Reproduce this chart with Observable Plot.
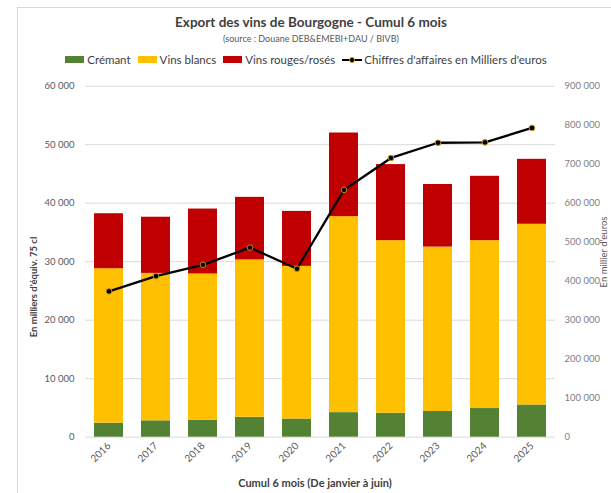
<!DOCTYPE html>
<html>
<head>
<meta charset="utf-8">
<script src="https://cdn.jsdelivr.net/npm/d3@7"></script>
<script src="https://cdn.jsdelivr.net/npm/@observablehq/plot@0.6"></script>
<style>
  html, body { margin:0; padding:0; width:611px; height:493px; overflow:hidden; background:#fff; font-family: Lato, "Open Sans", sans-serif; }
  #frame { position:absolute; left:17px; top:7px; width:700px; height:600px; border:1px solid #d9d9d9; box-sizing:border-box; }
  .t { position:absolute; white-space:nowrap; color:#404040; }
  #title { left:0; width:622px; top:14px; text-align:center; font-size:13.5px; font-weight:bold; }
  #subtitle { left:0; width:622px; top:33px; text-align:center; font-size:9px; color:#595959; }
  #legend { left:0; width:611px; top:53px; display:flex; justify-content:center; align-items:center; font-size:11.5px; color:#404040; padding-left:8px; box-sizing:border-box; }
  .li { display:flex; align-items:center; margin-right:7px; }
  .sw { width:19px; height:7px; margin-right:3px; }
  #chart { position:absolute; left:0; top:70px; }
  #xtitle { left:0; width:630px; top:476px; text-align:center; font-size:11px; font-weight:bold; }
  #ytitle { left:33px; top:287px; font-size:9.5px; font-weight:bold; transform:translate(-50%,-50%) rotate(-90deg); }
  #y2title { left:603px; top:252px; font-size:9.5px; color:#595959; transform:translate(-50%,-50%) rotate(-90deg); }
</style>
</head>
<body>
<div id="frame"></div>
<div class="t" id="title">Export des vins de Bourgogne - Cumul 6 mois</div>
<div class="t" id="subtitle">(source : Douane DEB&amp;EMEBI+DAU / BIVB)</div>
<div class="t" id="legend"></div>
<div id="chart"></div>
<div class="t" id="xtitle">Cumul 6 mois (De janvier à juin)</div>
<div class="t" id="ytitle">En milliers d'équiv. 75 cl</div>
<div class="t" id="y2title">En millier d'euros</div>
<script>
// ---- data ----
const years = ["2016","2017","2018","2019","2020","2021","2022","2023","2024","2025"];
const cremant = [2400, 2800, 2900, 3400, 3100, 4200, 4100, 4400, 4900, 5500];
const vinsBlancs = [26400, 25200, 25000, 26900, 26100, 33500, 29500, 28100, 28700, 30900];
const vinsRouges = [9400, 9600, 11100, 10700, 9400, 14300, 13000, 10700, 11000, 11100];
const chiffreAffaires = [374000, 413000, 442000, 486000, 432000, 634000, 716000, 755000, 756000, 793000];
const seriesNames = ["Crémant", "Vins blancs", "Vins rouges/rosés"];
const seriesColors = ["#548235", "#FFC000", "#C00000"];
const lineName = "Chiffres d'affaires en Milliers d'euros";
const leftTicks = [0, 10000, 20000, 30000, 40000, 50000, 60000];
const rightTicks = [0, 100000, 200000, 300000, 400000, 500000, 600000, 700000, 800000, 900000];

// ---- build tables ----
const seriesValues = [cremant, vinsBlancs, vinsRouges];
const rows = [];
seriesNames.forEach((s, si) => years.forEach((y, i) => rows.push({year: y, series: s, value: seriesValues[si][i]})));
const caRows = years.map((y, i) => ({year: y, ca: chiffreAffaires[i]}));
const ratio = rightTicks[rightTicks.length - 1] / leftTicks[leftTicks.length - 1];

const fmt = d3.formatLocale({decimal: ",", thousands: " ", grouping: [3], currency: ["", ""]}).format(",d");

// ---- legend ----
const legend = document.getElementById("legend");
seriesNames.forEach((s, i) => {
  const el = document.createElement("div"); el.className = "li";
  el.innerHTML = `<span class="sw" style="background:${seriesColors[i]}"></span><span>${s}</span>`;
  legend.appendChild(el);
});
{
  const el = document.createElement("div"); el.className = "li";
  el.innerHTML = `<svg width="20" height="10" style="margin-right:2px"><line x1="0" y1="5" x2="20" y2="5" stroke="black" stroke-width="2"/><circle cx="10" cy="5" r="2.5" fill="black" stroke="#c09010" stroke-width="1"/></svg><span>${lineName}</span>`;
  legend.appendChild(el);
}

// ---- chart ----
const chart = Plot.plot({
  width: 611,
  height: 423,
  marginTop: 15.7,
  marginBottom: 56.3,
  marginLeft: 85,
  marginRight: 56,
  style: {fontFamily: "Lato, 'Open Sans', sans-serif", fontSize: "9.5px", background: "transparent"},
  x: {domain: years, paddingInner: 0.38, paddingOuter: 0.19, label: null},
  y: {domain: [0, 60000], label: null},
  color: {domain: seriesNames, range: seriesColors},
  marks: [
    Plot.gridY(leftTicks, {stroke: "#d9d9d9", strokeOpacity: 1, strokeWidth: 1}),
    Plot.barY(rows, {x: "year", y: "value", fill: "series", order: seriesNames}),
    Plot.line(caRows, {x: "year", y: d => d.ca / ratio, stroke: "black", strokeWidth: 2.3}),
    Plot.dot(caRows, {x: "year", y: d => d.ca / ratio, r: 2.8, fill: "black", stroke: "#c09010", strokeWidth: 1}),
    Plot.axisY(leftTicks, {anchor: "left", tickSize: 0, tickPadding: 11, tickFormat: fmt, fill: "#595959", label: null}),
    Plot.axisY(rightTicks.map(v => v / ratio), {anchor: "right", tickSize: 0, tickPadding: 9, tickFormat: d => fmt(Math.round(d * ratio)), fill: "#808080", label: null}),
    Plot.axisX({tickSize: 0, tickRotate: -45, tickPadding: 7, fill: "#595959", fontSize: 10, label: null})
  ]
});
document.getElementById("chart").appendChild(chart);
</script>
</body>
</html>
